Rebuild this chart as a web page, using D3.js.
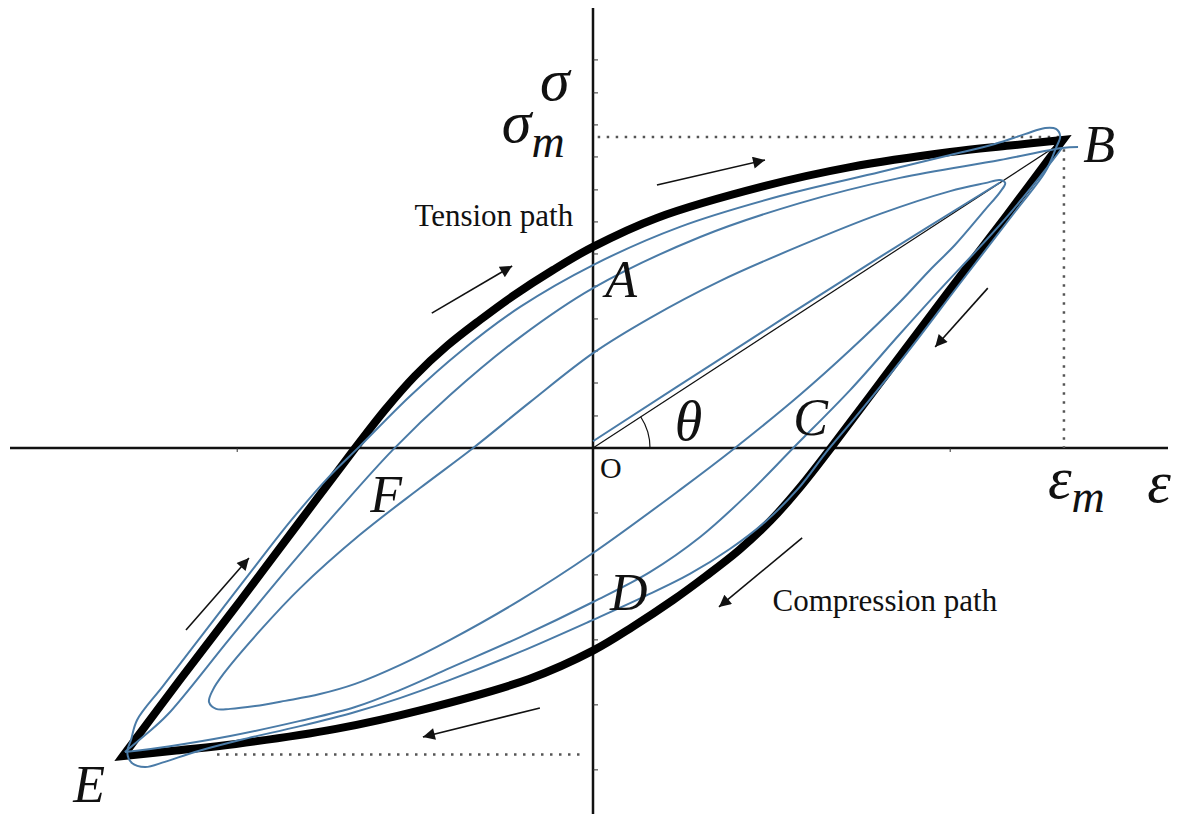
<!DOCTYPE html>
<html>
<head>
<meta charset="utf-8">
<script src="https://cdn.jsdelivr.net/npm/d3@7/dist/d3.min.js"></script>
<style>
  body { margin: 0; background: #fff; }
  svg { display: block; }
  text { font-family: 'Liberation Serif', 'Times New Roman', serif; fill: #111; }
</style>
</head>
<body>
<div id="chart"></div>
<script>
'use strict'

// all values are normalised: strain / eps_m, stress / sigma_m

// thick envelope, tension path (E -> B)
var tensionEps = [-1, -0.879, -0.751, -0.623, -0.506, -0.443, -0.379, -0.311, -0.240, -0.170, -0.085, 0, 0.136, 0.366, 0.547, 0.760, 0.887, 1];
var tensionSig = [-1, -0.753, -0.497, -0.237, 0, 0.123, 0.234, 0.331, 0.416, 0.494, 0.578, 0.653, 0.747, 0.851, 0.912, 0.961, 0.982, 1];

// thick envelope, compression path (B -> E)
var compressionEps = [1, 0.879, 0.751, 0.623, 0.506, 0.443, 0.379, 0.311, 0.240, 0.170, 0.085, 0, -0.136, -0.366, -0.547, -0.760, -0.887, -1];
var compressionSig = [1, 0.753, 0.497, 0.237, 0, -0.123, -0.234, -0.331, -0.416, -0.494, -0.580, -0.658, -0.750, -0.851, -0.912, -0.961, -0.982, -1];

// blue loop 1 (outer, rounded overshoot at B and E), closed
var loop1Eps = [-0.991, -0.983, -0.970, -0.915, -0.830, -0.738, -0.645, -0.564, -0.496, -0.389, -0.283, -0.155, 0, 0.185, 0.398, 0.611, 0.760, 0.855, 0.919, 0.962, 0.985, 0.994, 0.985,
  0.962, 0.904, 0.847, 0.770, 0.694, 0.619, 0.555, 0.500, 0.436, 0.366, 0.291, 0.206, 0.111, 0, -0.155, -0.304, -0.411, -0.506, -0.623, -0.751, -0.847, -0.911, -0.953, -0.981];
var loop1Sig = [-0.987, -0.948, -0.883, -0.773, -0.604, -0.422, -0.240, -0.097, 0.006, 0.169, 0.312, 0.458, 0.594, 0.718, 0.818, 0.896, 0.951, 0.987, 1.019, 1.039, 1.036, 1.013, 0.974,
  0.896, 0.779, 0.666, 0.513, 0.360, 0.214, 0.094, -0.006, -0.133, -0.240, -0.328, -0.409, -0.481, -0.558, -0.662, -0.753, -0.812, -0.857, -0.903, -0.948, -0.987, -1.019, -1.036, -1.023];

// blue loop 2 (sharp corners at B and E)
var loop2TensionEps = [-0.996, -0.953, -0.906, -0.772, -0.645, -0.549, -0.426, -0.304, -0.155, 0, 0.228, 0.440, 0.653, 0.866, 0.998, 1.032];
var loop2TensionSig = [-0.987, -0.932, -0.867, -0.617, -0.383, -0.214, -0.006, 0.172, 0.360, 0.519, 0.685, 0.795, 0.877, 0.935, 0.974, 0.977];
var loop2CompressionEps = [0.998, 0.940, 0.877, 0.813, 0.749, 0.653, 0.547, 0.426, 0.330, 0.228, 0.121, 0, -0.155, -0.304, -0.411, -0.506, -0.623, -0.772, -0.900, -0.996];
var loop2CompressionSig = [0.974, 0.860, 0.744, 0.636, 0.532, 0.370, 0.188, 0, -0.149, -0.289, -0.403, -0.5, -0.614, -0.714, -0.786, -0.841, -0.886, -0.935, -0.968, -0.987];

// blue loop 3 (tongue shaped, rounded tips), closed
var loop3Eps = [-0.817, -0.809, -0.785, -0.709, -0.623, -0.496, -0.368, -0.255, -0.134, 0, 0.121, 0.270, 0.440, 0.611, 0.760, 0.834, 0.866, 0.877,
  0.866, 0.834, 0.770, 0.717, 0.653, 0.547, 0.440, 0.302, 0.185, 0, -0.155, -0.304, -0.411, -0.506, -0.581, -0.655, -0.719, -0.772, -0.802];
var loop3Sig = [-0.825, -0.786, -0.731, -0.594, -0.455, -0.282, -0.130, 0, 0.149, 0.308, 0.422, 0.542, 0.656, 0.760, 0.834, 0.860, 0.870, 0.860,
  0.831, 0.773, 0.659, 0.578, 0.474, 0.318, 0.172, 0, -0.136, -0.341, -0.494, -0.623, -0.705, -0.766, -0.799, -0.821, -0.838, -0.847, -0.847];

// blue initial loading curve from O
var virginEps = [0, 0.3, 0.6, 0.866];
var virginSig = [0.022, 0.318, 0.610, 0.862];

// axis ticks
var sigTicks = [-1.045, -0.834, -0.623, -0.412, -0.211, 0.104, 0.211, 0.315, 0.419, 0.526, 0.630, 0.734, 0.838, 0.945, 1.049, 1.153, 1.26];
var epsTicks = [-0.757, 0.76];

// direction arrows [eps0, sig0, eps1, sig1]
var arrows = [
  [0.136, 0.854, 0.366, 0.935],
  [-0.343, 0.438, -0.172, 0.591],
  [-0.866, -0.591, -0.732, -0.357],
  [0.840, 0.519, 0.728, 0.328],
  [0.445, -0.292, 0.268, -0.516],
  [-0.113, -0.844, -0.362, -0.938]
];

// point letters [text, eps, sig]
var pointLabels = [
  ['A', 0.026, 0.490],
  ['B', 1.043, 0.929],
  ['C', 0.426, 0.042],
  ['D', 0.036, -0.526],
  ['E', -1.106, -1.150],
  ['F', -0.474, -0.208]
];

var pathLabels = [
  ['Tension path', -0.211, 0.721],
  ['Compression path', 0.621, -0.529]
];

function zip(a, b) {
  return a.map(function(v, i) { return [v, b[i]]; });
}

(function() {
  var width = 1181, height = 814;

  var x = d3.scaleLinear().domain([-1, 1]).range([123, 1063]);
  var y = d3.scaleLinear().domain([-1, 1]).range([756, 140]);

  var svg = d3.select('#chart').append('svg')
    .attr('width', width)
    .attr('height', height);

  svg.append('defs').append('marker')
    .attr('id', 'head')
    .attr('viewBox', '0 0 10 10')
    .attr('refX', 10)
    .attr('refY', 5)
    .attr('markerUnits', 'userSpaceOnUse')
    .attr('markerWidth', 17)
    .attr('markerHeight', 12)
    .attr('orient', 'auto')
    .append('path')
    .attr('d', 'M0,0 L10,5 L0,10 z')
    .attr('fill', '#111');

  // axes
  svg.append('line')
    .attr('x1', 10).attr('x2', 1168)
    .attr('y1', y(0)).attr('y2', y(0))
    .attr('stroke', '#111').attr('stroke-width', 2.5);
  svg.append('line')
    .attr('x1', x(0)).attr('x2', x(0))
    .attr('y1', 8).attr('y2', height)
    .attr('stroke', '#111').attr('stroke-width', 2.5);

  svg.append('g').selectAll('line')
    .data(sigTicks)
    .enter().append('line')
    .attr('x1', x(0)).attr('x2', x(0) + 5)
    .attr('y1', function(d) { return y(d); })
    .attr('y2', function(d) { return y(d); })
    .attr('stroke', '#333').attr('stroke-width', 1);

  svg.append('g').selectAll('line')
    .data(epsTicks)
    .enter().append('line')
    .attr('x1', function(d) { return x(d); })
    .attr('x2', function(d) { return x(d); })
    .attr('y1', y(0)).attr('y2', y(0) + 4)
    .attr('stroke', '#333').attr('stroke-width', 1);

  // dotted reference lines at sigma_m, eps_m, -sigma_m
  var dotted = [
    [0.01, 1.01, 1, 1.01],
    [1.002, 0.97, 1.002, 0],
    [-0.8, -0.995, -0.02, -0.995]
  ];
  svg.append('g').selectAll('line')
    .data(dotted)
    .enter().append('line')
    .attr('x1', function(d) { return x(d[0]); })
    .attr('y1', function(d) { return y(d[1]); })
    .attr('x2', function(d) { return x(d[2]); })
    .attr('y2', function(d) { return y(d[3]); })
    .attr('stroke', '#555')
    .attr('stroke-width', 2.5)
    .attr('stroke-dasharray', '2.5,6.5');

  var smooth = d3.line()
    .x(function(d) { return x(d[0]); })
    .y(function(d) { return y(d[1]); })
    .curve(d3.curveCatmullRom.alpha(0.5));

  var smoothClosed = d3.line()
    .x(function(d) { return x(d[0]); })
    .y(function(d) { return y(d[1]); })
    .curve(d3.curveCatmullRomClosed.alpha(0.5));

  // secant O-B
  svg.append('line')
    .attr('x1', x(0)).attr('y1', y(0))
    .attr('x2', x(0.98)).attr('y2', y(0.975))
    .attr('stroke', '#111').attr('stroke-width', 1.2);

  // thick envelope, drawn as one closed path with sharp tips
  var upper = smooth(zip(tensionEps, tensionSig));
  var lower = smooth(zip(compressionEps, compressionSig)).replace(/^M[^A-Za-z]*/, '');
  svg.append('path')
    .attr('d', upper + lower + 'Z')
    .attr('fill', 'none')
    .attr('stroke', '#000')
    .attr('stroke-width', 8)
    .attr('stroke-linejoin', 'miter');

  var blue = '#4a7ba7';
  var blueG = svg.append('g')
    .attr('fill', 'none')
    .attr('stroke', blue)
    .attr('stroke-width', 2);

  blueG.append('path').attr('d', smoothClosed(zip(loop1Eps, loop1Sig)));
  blueG.append('path').attr('d', smooth(zip(loop2TensionEps, loop2TensionSig)));
  blueG.append('path').attr('d', smooth(zip(loop2CompressionEps, loop2CompressionSig)));
  blueG.append('path').attr('d', smoothClosed(zip(loop3Eps, loop3Sig)));
  blueG.append('path').attr('d', smooth(zip(virginEps, virginSig)));

  // theta arc
  var arcR = 57;
  var ang = Math.atan2(y(0) - y(1), x(1) - x(0));
  svg.append('path')
    .attr('d', 'M' + (x(0) + arcR) + ',' + y(0) + ' A' + arcR + ',' + arcR + ' 0 0 0 ' +
      (x(0) + arcR * Math.cos(ang)) + ',' + (y(0) - arcR * Math.sin(ang)))
    .attr('fill', 'none').attr('stroke', '#111').attr('stroke-width', 1.2);

  // arrows
  svg.append('g').selectAll('line')
    .data(arrows)
    .enter().append('line')
    .attr('x1', function(d) { return x(d[0]); })
    .attr('y1', function(d) { return y(d[1]); })
    .attr('x2', function(d) { return x(d[2]); })
    .attr('y2', function(d) { return y(d[3]); })
    .attr('stroke', '#111')
    .attr('stroke-width', 1.6)
    .attr('marker-end', 'url(#head)');

  // labels
  svg.append('g').selectAll('text')
    .data(pointLabels)
    .enter().append('text')
    .attr('x', function(d) { return x(d[1]); })
    .attr('y', function(d) { return y(d[2]); })
    .attr('font-size', 52)
    .attr('font-style', 'italic')
    .text(function(d) { return d[0]; });

  svg.append('g').selectAll('text')
    .data(pathLabels)
    .enter().append('text')
    .attr('x', function(d) { return x(d[1]); })
    .attr('y', function(d) { return y(d[2]); })
    .attr('text-anchor', 'middle')
    .attr('font-size', 31)
    .text(function(d) { return d[0]; });

  svg.append('text')
    .attr('x', x(0.015)).attr('y', y(-0.097))
    .attr('font-size', 30)
    .text('O');

  svg.append('text')
    .attr('x', x(0.174)).attr('y', y(0.026))
    .attr('font-size', 56).attr('font-style', 'italic')
    .text('θ');

  // sigma, sigma_m
  svg.append('text')
    .attr('x', x(-0.113)).attr('y', y(1.13))
    .attr('font-size', 60).attr('font-style', 'italic')
    .text('σ');
  var sm = svg.append('text')
    .attr('x', x(-0.194)).attr('y', y(0.993))
    .attr('font-size', 60).attr('font-style', 'italic');
  sm.append('tspan').text('σ');
  sm.append('tspan').attr('font-size', 46).attr('dy', 15).text('m');

  // eps, eps_m
  var em = svg.append('text')
    .attr('x', x(0.968)).attr('y', y(-0.162))
    .attr('font-size', 60).attr('font-style', 'italic');
  em.append('tspan').text('ε');
  em.append('tspan').attr('font-size', 46).attr('dy', 14).text('m');
  svg.append('text')
    .attr('x', x(1.179)).attr('y', y(-0.175))
    .attr('font-size', 60).attr('font-style', 'italic')
    .text('ε');
})();
</script>
</body>
</html>
